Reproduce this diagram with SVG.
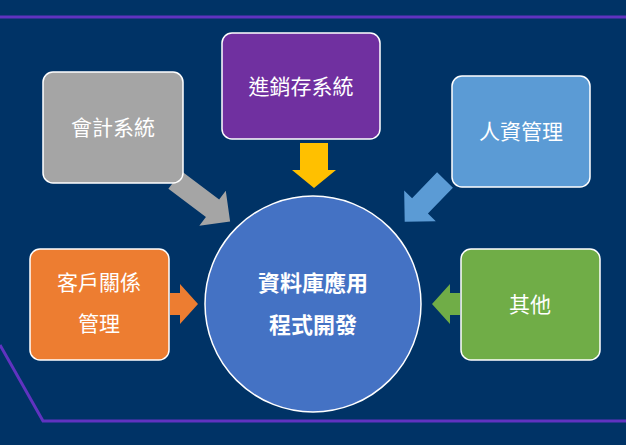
<svg xmlns="http://www.w3.org/2000/svg" width="626" height="445" viewBox="0 0 626 445">
<style>
.box{stroke:#fff;stroke-width:1.5}
.t{fill:#fff;font-family:"Noto Sans CJK TC","Noto Sans",sans-serif;font-size:21px;text-anchor:middle}
.b{font-weight:bold;font-size:22px}
</style>
<rect width="626" height="445" fill="#003366"/>
<line x1="0" y1="17" x2="626" y2="17" stroke="#6033c0" stroke-width="3"/>
<polyline points="0,345 43,421 626,421" fill="none" stroke="#6033c0" stroke-width="3"/>
<g id="connectors">
<polygon transform="translate(175,180) rotate(37)" points="0,-11 47,-11 47,-22 69,0 47,22 47,11 0,11" fill="#a5a5a5"/>
<polygon transform="translate(445,180) rotate(134)" points="0,-11 36,-11 36,-22 58,0 36,22 36,11 0,11" fill="#5b9bd5"/>
<polygon transform="translate(314,143) rotate(90)" points="0,-14 27,-14 27,-22 45,0 27,22 27,14 0,14" fill="#ffc000"/>
<polygon transform="translate(170,304)" points="0,-11 10,-11 10,-20 28,0 10,20 10,11 0,11" fill="#ed7d31"/>
<polygon transform="translate(460,304) rotate(180)" points="0,-11 10,-11 10,-20 28,0 10,20 10,11 0,11" fill="#70ad47"/>
</g>
<g id="center"><circle cx="313" cy="304" r="108" fill="#4472c4" stroke="#fff" stroke-width="1.5"/>
<text class="t b" x="313" y="291">資料庫應用</text><text class="t b" x="313" y="333">程式開發</text></g>
<g id="acct"><rect class="box" x="43" y="72" width="140" height="111" rx="10" fill="#a5a5a5"/><text class="t" x="113" y="135">會計系統</text></g>
<g id="inv"><rect class="box" x="222" y="33" width="158" height="106" rx="10" fill="#7030a0"/><text class="t" x="301" y="94">進銷存系統</text></g>
<g id="hr"><rect class="box" x="452" y="76" width="138" height="111" rx="10" fill="#5b9bd5"/><text class="t" x="521" y="139">人資管理</text></g>
<g id="crm"><rect class="box" x="30" y="249" width="139" height="111" rx="10" fill="#ed7d31"/><text class="t" x="99" y="290">客戶關係</text><text class="t" x="99" y="331">管理</text></g>
<g id="other"><rect class="box" x="461" y="249" width="139" height="111" rx="10" fill="#70ad47"/><text class="t" x="530" y="312">其他</text></g>
</svg>
